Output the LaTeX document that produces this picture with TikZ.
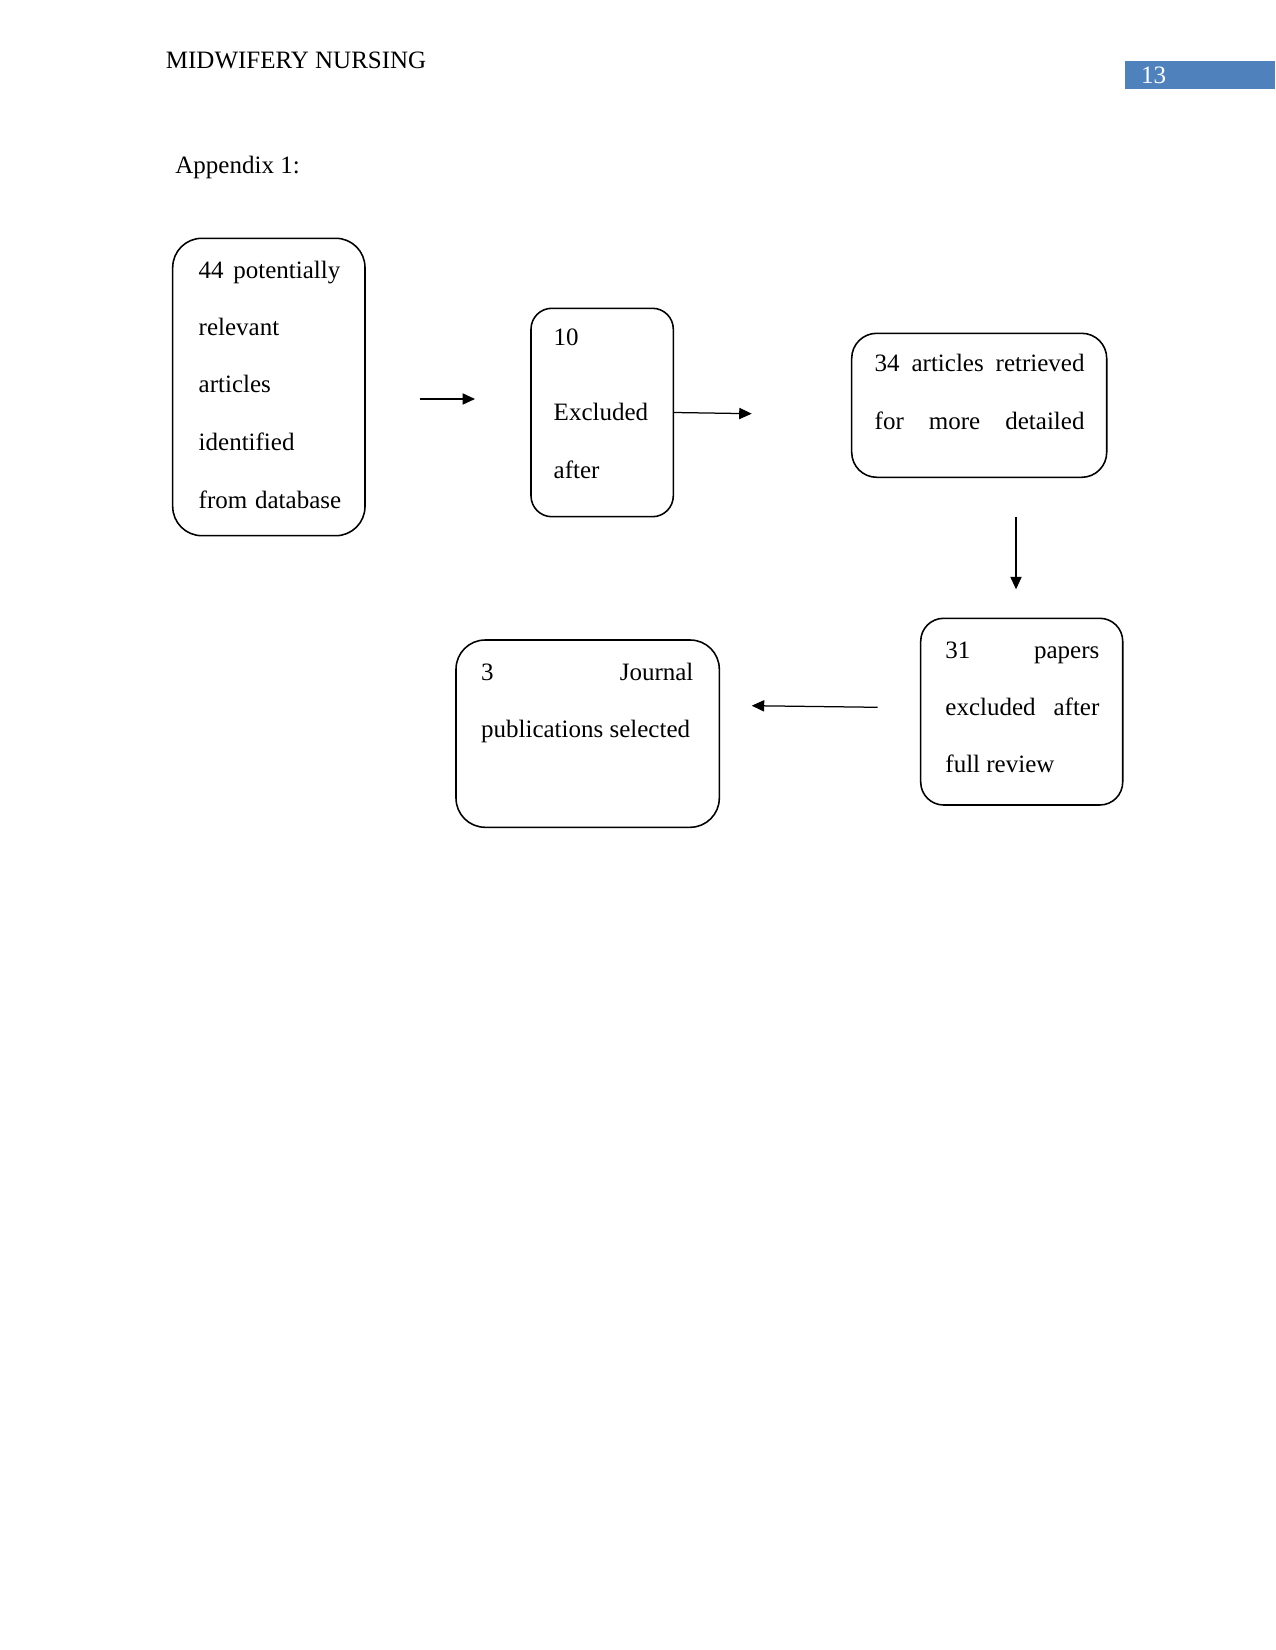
\documentclass[tikz,border=0pt]{standalone}
\usepackage{fontspec}
\setmainfont{Liberation Serif}
\usetikzlibrary{arrows.meta}
\definecolor{pagenum}{HTML}{4F81BD}
\begin{document}
\begin{tikzpicture}[x=0.48pt,y=-0.48pt,
  box/.style={draw,line width=0.75pt,inner sep=0pt,fill=none},
  txt/.style={anchor=base west,inner sep=0pt,font=\fontsize{12pt}{14pt}\selectfont},
  arr/.style={line width=0.6pt,-{Triangle[length=6pt,width=5.4pt]}}]
\useasboundingbox (0,0) rectangle (1275,1650);
\fill[white] (0,0) rectangle (1275,1650);
% header
\node[txt] (hdr) at (165.5,69) {MIDWIFERY NURSING};
\fill[pagenum] (1125,60.7) rectangle (1275,89);
\node[txt,text=white] (pnum) at (1140.7,83.3) {13};
\node[txt] (app) at (175,173.3) {Appendix 1:};
% boxes
\node[box,rounded corners=14pt,minimum width=192.3*0.48pt,minimum height=297.4*0.48pt] (b1) at (268.85,387) {};
\node[box,rounded corners=10pt,minimum width=142.3*0.48pt,minimum height=208.4*0.48pt] (b2) at (602.15,412.5) {};
\node[box,rounded corners=12pt,minimum width=255*0.48pt,minimum height=144*0.48pt] (b3) at (979.2,405.3) {};
\node[box,rounded corners=11pt,minimum width=202*0.48pt,minimum height=186.7*0.48pt] (b4) at (1021.7,711.65) {};
\node[box,rounded corners=14pt,minimum width=263.3*0.48pt,minimum height=187.3*0.48pt] (b5) at (587.65,733.65) {};
% box 1 text
\node[txt] (t11) at (198.3,278.3) {\hbox to 68pt{44\hfill potentially}};
\node[txt] (t12) at (198.3,336) {relevant};
\node[txt] (t13) at (198.3,392.7) {articles};
\node[txt] (t14) at (198.3,451) {identified};
\node[txt] (t15) at (198.3,508) {\hbox to 68.4pt{from\hfill database}};
% box 2 text
\node[txt] (t21) at (553.3,345.7) {10};
\node[txt] (t22) at (553.3,420) {Excluded};
\node[txt] (t23) at (553.3,478) {after};
% box 3 text
\node[txt] (t31) at (874.3,371.7) {\hbox to 100.7pt{34\hfill articles\hfill retrieved}};
\node[txt] (t32) at (874.3,429.3) {\hbox to 100.7pt{for\hfill more\hfill detailed}};
% box 4 text
\node[txt] (t41) at (945,658) {\hbox to 73.9pt{31\hfill papers}};
\node[txt] (t42) at (945,715) {\hbox to 73.9pt{excluded\hfill after}};
\node[txt] (t43) at (945,772.7) {full review};
% box 5 text
\node[txt] (t51) at (480.7,680) {\hbox to 101.9pt{3\hfill Journal}};
\node[txt] (t52) at (480.7,737.3) {publications selected};
% arrows
\coordinate (a1s) at (420,399);
\coordinate (a1e) at (475,399);
\coordinate (a2e) at (751.7,413.7);
\coordinate (a3s) at (1016,516.7);
\coordinate (a3e) at (1016,589.3);
\coordinate (a4s) at (877.7,707.3);
\coordinate (a4e) at (751.7,705.7);
\draw[arr] (a1s) -- (a1e);
\draw[arr] (b2.east) -- (a2e);
\draw[arr] (a3s) -- (a3e);
\draw[arr] (a4s) -- (a4e);
\end{tikzpicture}
\end{document}
